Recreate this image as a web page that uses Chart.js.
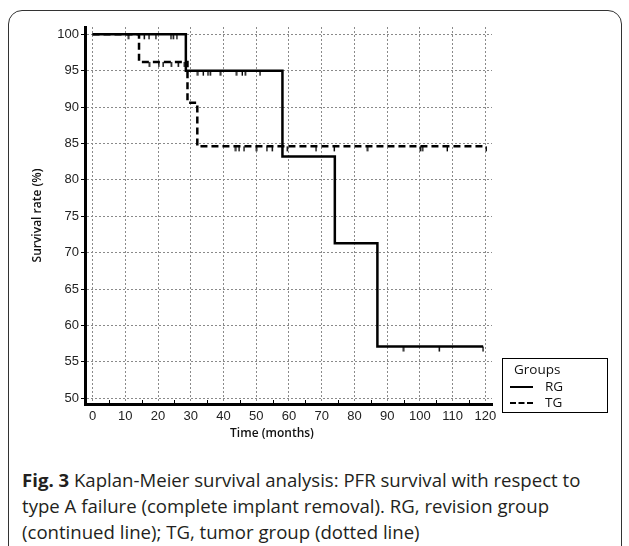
<!DOCTYPE html>
<html><head><meta charset="utf-8">
<script src="https://cdn.jsdelivr.net/npm/chart.js@4.4.0/dist/chart.umd.min.js"></script>
<style>
html,body{margin:0;padding:0;background:#fff;width:629px;height:546px;overflow:hidden;}
#frame{position:absolute;left:8px;top:10px;width:614px;height:570px;border:1.5px solid #333;border-radius:14px;box-sizing:border-box;}
#wrap{position:absolute;left:0;top:0;width:629px;height:446px;}
#xt{position:absolute;top:424px;left:172px;width:200px;text-align:center;font:600 12px "Open Sans";color:#111;}
#legend{position:absolute;left:502px;top:358px;width:106px;height:55px;border:1.5px solid #000;box-sizing:border-box;font:13.5px "Open Sans";color:#111;}
#legend .t{position:absolute;left:11px;top:1px;}
#legend .r{position:absolute;left:7px;height:18px;width:90px;}
#legend .sw{position:absolute;left:0;top:9px;width:23px;height:0;border-top:2.5px solid #000;}
#legend .sw.d{border-top:2.5px dashed #000;}
#legend .lb{position:absolute;left:35px;top:0;}
#caption{position:absolute;left:22px;top:467px;font:18.6px/26px "Open Sans";color:#231f20;white-space:nowrap;}
#caption b{font-weight:700;}
</style></head>
<body>
<div id="frame"></div>
<div id="wrap"><canvas id="c"></canvas></div>
<div id="xt">Time (months)</div>
<div id="legend">
  <div class="t">Groups</div>
  <div class="r" style="top:18px"><span class="sw"></span><span class="lb">RG</span></div>
  <div class="r" style="top:34px"><span class="sw d"></span><span class="lb">TG</span></div>
</div>
<div id="caption"><b>Fig. 3</b> Kaplan-Meier survival analysis: PFR survival with respect to<br>type A failure (complete implant removal). RG, revision group<br>(continued line); TG, tumor group (dotted line)</div>
<script>
// Kaplan-Meier step data
const rgTimes = [0, 28.5, 58, 74, 87, 119.3];
const rgSurv  = [100, 95, 83.2, 71.3, 57.1, 57.1];
const tgTimes = [0, 14.2, 29, 32, 120.3];
const tgSurv  = [100, 96.2, 90.6, 84.6, 84.6];
// censored observations
const rgCensorTimes = [11.1, 15.9, 17.3, 19.4, 24.0, 24.8, 25.8, 32.2, 33.9, 35.3, 36.1, 39.2, 44.1, 45.8, 46.8, 51.2, 95.1, 106, 119.3];
const rgCensorSurv  = [100, 100, 100, 100, 100, 100, 100, 95, 95, 95, 95, 95, 95, 95, 95, 95, 57.1, 57.1, 57.1];
const tgCensorTimes = [17.5, 20.3, 21.6, 24.2, 26.3, 28.2, 43.8, 44.8, 46.3, 50.2, 53.3, 55.0, 59.6, 68.3, 73.9, 84.1, 100.2, 100.9, 108.4, 120.3];
const tgCensorSurv  = [96.2, 96.2, 96.2, 96.2, 96.2, 96.2, 84.6, 84.6, 84.6, 84.6, 84.6, 84.6, 84.6, 84.6, 84.6, 84.6, 84.6, 84.6, 84.6, 84.6];
const xTickStep = 5;
const yTickStep = 5;

const pts = (xs, ys) => xs.map((x, i) => ({x: x, y: ys[i]}));

// censor mark: short vertical tick hanging below the point
const tickImg = document.createElement('canvas');
tickImg.width = 3; tickImg.height = 12;
(function(){const g = tickImg.getContext('2d'); g.fillStyle = '#000'; g.fillRect(0.6, 6, 1.4, 5);})();

const minorTicks = {
  id: 'minorTicks',
  afterDatasetsDraw(chart) {
    const xs = chart.scales.x, ctx = chart.ctx, b = chart.chartArea.bottom;
    ctx.save(); ctx.strokeStyle = '#000'; ctx.lineWidth = 1;
    xs.ticks.forEach(t => {
      if (t.value % 10 !== 0) {
        const px = Math.round(xs.getPixelForValue(t.value)) + 0.5;
        ctx.beginPath(); ctx.moveTo(px, b); ctx.lineTo(px, b - 4); ctx.stroke();
      }
    });
    ctx.restore();
  }
};

new Chart(document.getElementById('c'), {
  type: 'line',
  data: {
    datasets: [
      {label: 'RG', data: pts(rgTimes, rgSurv), stepped: 'before', borderColor: '#000', borderWidth: 2.5, pointRadius: 0, fill: false},
      {label: 'TG', data: pts(tgTimes, tgSurv), stepped: 'before', borderColor: '#000', borderWidth: 2.5, borderDash: [7, 4], pointRadius: 0, fill: false},
      {label: 'RG censored', data: pts(rgCensorTimes, rgCensorSurv), showLine: false, pointStyle: tickImg, pointRadius: 3},
      {label: 'TG censored', data: pts(tgCensorTimes, tgCensorSurv), showLine: false, pointStyle: tickImg, pointRadius: 3}
    ]
  },
  options: {
    responsive: true, maintainAspectRatio: false, animation: false,
    layout: {padding: {top: 27, right: 137, left: 0, bottom: 0}},
    plugins: {legend: {display: false}, tooltip: {enabled: false}},
    scales: {
      x: {
        type: 'linear', min: -2.3, max: 122,
        afterFit: s => { s.height = 42; },
        ticks: {stepSize: xTickStep, includeBounds: false, autoSkip: false, maxRotation: 0,
          font: {family: '"Liberation Sans", Arial', size: 13}, color: '#222', padding: 5,
          callback: v => (v % 10 === 0 ? String(v) : '')},
        grid: {color: c => (c.tick && c.tick.value % 10 === 0 ? '#8a8a8a' : 'rgba(0,0,0,0)'), lineWidth: 1, drawTicks: false},
        border: {display: true, color: '#000', width: 3, dash: [2, 2]}
      },
      y: {
        min: 49.2, max: 101,
        afterFit: s => { s.width = 85; },
        ticks: {stepSize: yTickStep, includeBounds: false,
          font: {family: '"Liberation Sans", Arial', size: 13}, color: '#222', padding: 2},
        grid: {color: '#8a8a8a', lineWidth: 1, drawTicks: true, tickLength: 4, tickColor: '#000', tickBorderDash: []},
        border: {display: true, color: '#000', width: 3, dash: [2, 2]},
        title: {display: true, text: 'Survival rate (%)', font: {family: '"Open Sans"', size: 12, weight: '600'}, color: '#111', padding: {top: 30, bottom: 0}}
      }
    }
  },
  plugins: [minorTicks]
});
</script>
</body></html>
